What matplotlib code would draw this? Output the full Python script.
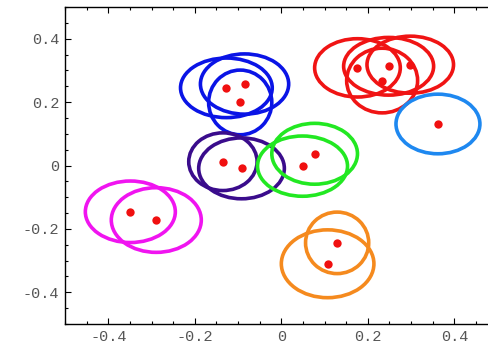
import matplotlib
matplotlib.use("Agg")
import matplotlib.pyplot as plt
from matplotlib.patches import Ellipse
from matplotlib.ticker import MultipleLocator

# centres des ellipses (= points rouges), rayons et couleurs
cx = [-0.127, -0.085, -0.095,
      0.176, 0.248, 0.298, 0.233,
      0.362,
      -0.135, -0.092,
      0.077, 0.049,
      -0.349, -0.289,
      0.129, 0.107]
cy = [0.245, 0.257, 0.199,
      0.308, 0.313, 0.318, 0.268,
      0.131,
      0.012, -0.009,
      0.037, -0.002,
      -0.146, -0.172,
      -0.244, -0.310]
rx = [0.106, 0.102, 0.073,
      0.099, 0.104, 0.100, 0.082,
      0.097,
      0.079, 0.099,
      0.099, 0.104,
      0.104, 0.104,
      0.073, 0.107]
ry = [0.094, 0.095, 0.102,
      0.092, 0.091, 0.090, 0.102,
      0.094,
      0.091, 0.096,
      0.096, 0.095,
      0.097, 0.102,
      0.097, 0.107]
colores = ["#0a14e6"] * 3 + ["#f01414"] * 4 + ["#1e88f0"] + ["#3a0c8c"] * 2 \
    + ["#22e822"] * 2 + ["#f014f0"] * 2 + ["#f58a1e"] * 2

ticks = [-0.4, -0.2, 0, 0.2, 0.4]
tick_labels = ["-0.4", "-0.2", "0", "0.2", "0.4"]

fig = plt.figure(figsize=(4.89, 3.44), dpi=100)
ax = fig.add_axes([65 / 489, 20 / 344, 1 - 65 / 489, 317 / 344])

for i in range(len(cx)):
    e = Ellipse((cx[i], cy[i]), 2 * rx[i], 2 * ry[i], fill=False,
                edgecolor=colores[i], linewidth=2.6)
    ax.add_patch(e)

ax.scatter(cx, cy, s=36, color="#f01010", zorder=5, linewidths=0)

ax.set_xlim(-0.5, 0.48)
ax.set_ylim(-0.5, 0.5)
ax.set_xticks(ticks)
ax.set_xticklabels(tick_labels)
ax.set_yticks(ticks)
ax.set_yticklabels(tick_labels)
ax.xaxis.set_minor_locator(MultipleLocator(0.05))
ax.yaxis.set_minor_locator(MultipleLocator(0.05))
ax.spines["right"].set_visible(False)
for s in ["left", "bottom", "top"]:
    ax.spines[s].set_linewidth(1.0)
ax.tick_params(which="both", direction="in", top=True, right=False,
               labelsize=11, labelcolor="#555555", width=0.8)
ax.tick_params(which="major", length=4, pad=4)
ax.tick_params(which="minor", length=2.5)
for lab in ax.get_xticklabels() + ax.get_yticklabels():
    lab.set_fontfamily("Liberation Mono")

fig.savefig("out.png", dpi=100)
